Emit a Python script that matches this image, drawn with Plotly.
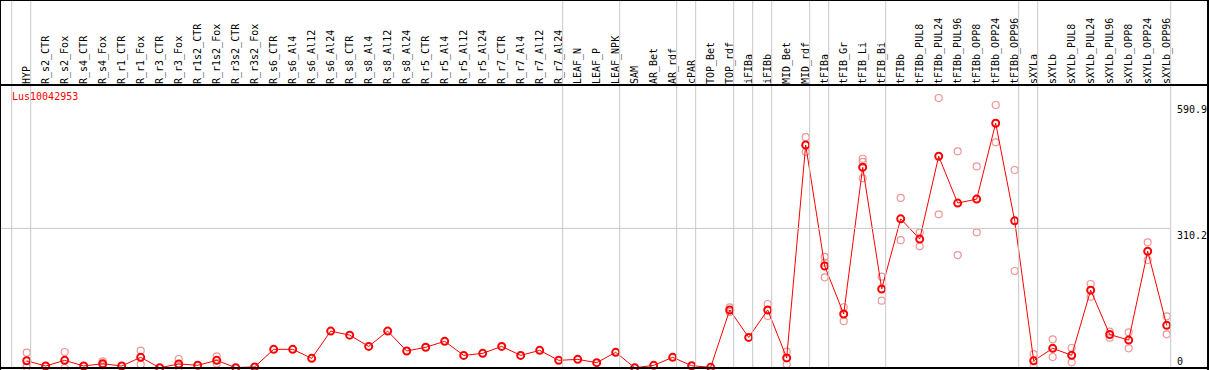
import plotly.graph_objects as go

# ---------------- data ----------------
categories = [
    "HYP",
    "R_s2_CTR", "R_s2_Fox", "R_s4_CTR", "R_s4_Fox", "R_r1_CTR", "R_r1_Fox",
    "R_r3_CTR", "R_r3_Fox", "R_r1s2_CTR", "R_r1s2_Fox", "R_r3s2_CTR", "R_r3s2_Fox",
    "R_s6_CTR", "R_s6_Al4", "R_s6_Al12", "R_s6_Al24", "R_s8_CTR", "R_s8_Al4",
    "R_s8_Al12", "R_s8_Al24", "R_r5_CTR", "R_r5_Al4", "R_r5_Al12", "R_r5_Al24",
    "R_r7_CTR", "R_r7_Al4", "R_r7_Al12", "R_r7_Al24",
    "LEAF_N", "LEAF_P", "LEAF_NPK",
    "SAM", "AR_Bet", "AR_rdf",
    "cPAR",
    "TOP_Bet", "TOP_rdf",
    "iFIBa",
    "iFIBb",
    "MID_Bet", "MID_rdf",
    "tFIBa",
    "tFIB_Gr", "tFIB_Li", "tFIB_Bi",
    "tFIBb", "tFIBb_PUL8", "tFIBb_PUL24", "tFIBb_PUL96", "tFIBb_OPP8", "tFIBb_OPP24", "tFIBb_OPP96",
    "sXYLa",
    "sXYLb", "sXYLb_PUL8", "sXYLb_PUL24", "sXYLb_PUL96", "sXYLb_OPP8", "sXYLb_OPP24", "sXYLb_OPP96",
]

group_sizes = [1, 28, 3, 3, 1, 2, 1, 1, 2, 1, 3, 7, 1, 7]

mean_values = [
    16.0,
    4.4, 17.0, 4.4, 9.6, 4.4, 23.7,
    0.5, 9.0, 6.0, 17.0, 0.8, 2.5,
    41.5, 41.5, 21.5, 82.0, 73.0, 48.0,
    82.0, 37.8, 46.0, 59.3, 28.0, 32.6,
    48.0, 28.0, 39.2, 17.0,
    19.2, 11.9, 34.8,
    0.5, 5.9, 23.7,
    5.0,
    1.5, 129.0,
    68.0,
    129.0,
    22.5, 495.6,
    226.7,
    120.0, 446.0, 175.6,
    331.5, 286.5, 470.5, 366.5, 375.3, 544.0, 327.0,
    16.0,
    43.7, 28.2, 173.0, 74.5, 62.0, 259.4, 94.8,
]

replicate_values = [
    [34.0, 6.7, 2.0],
    [], [35.6, 0.0], [], [14.8, 6.0], [], [38.5, 8.0],
    [], [20.0, 1.5], [], [26.0, 10.0], [], [],
    [], [], [], [], [], [],
    [], [], [], [], [], [],
    [], [], [], [],
    [], [], [],
    [], [], [],
    [],
    [], [134.8, 124.4],
    [],
    [142.2, 115.6],
    [36.3, 8.1], [513.0, 480.0],
    [247.0, 234.0, 201.5],
    [135.0, 104.0], [465.0, 458.0, 421.5], [203.0, 149.6],
    [378.0, 284.0], [301.5, 270.4], [600.0, 341.5], [481.5, 251.0], [448.0, 301.5], [584.4, 501.5], [440.0, 215.6],
    [31.0, 6.7],
    [63.7, 24.4], [44.4, 12.6], [186.7, 158.5], [80.7, 67.4], [79.2, 43.7], [279.2, 240.0], [114.8, 74.8],
]

y_tick_values = [310.2, 590.9]
y_tick_labels = ["310.2", "590.9"]
y_zero_value = [0]
y_zero_label = ["0"]

gene_name = "Lus10042953"

# ---------------- layout geometry ----------------
W, H = 1209, 370
M_L, M_R, M_T, M_B = 0, 39, 85, 2
plot_w = W - M_L - M_R
plot_h = H - M_T - M_B
step_px = 19.0
first_px = 26.7
x_range = [(0 - first_px) / step_px, (plot_w - first_px) / step_px]
y_range = [0, plot_h / 0.45]

FONT = "DejaVu Sans Mono"
RED = "#ff0000"
PINK = "rgb(238,150,150)"
GRID = "#c8c8c8"

xs = list(range(len(categories)))

rep_x, rep_y = [], []
for i, reps in enumerate(replicate_values):
    for v in reps:
        rep_x.append(i)
        rep_y.append(v)

fig = go.Figure()
fig.add_trace(go.Scatter(
    x=rep_x, y=rep_y, mode="markers",
    marker=dict(symbol="circle-open", size=7, color=PINK, line=dict(width=1.2, color=PINK)),
    hoverinfo="skip", showlegend=False, cliponaxis=False,
))
fig.add_trace(go.Scatter(
    x=xs, y=mean_values, mode="lines+markers",
    line=dict(color=RED, width=1),
    marker=dict(symbol="circle-open", size=7, color=RED, line=dict(width=2, color=RED)),
    showlegend=False, cliponaxis=False,
))
# invisible trace for the second y axis (zero label)
fig.add_trace(go.Scatter(x=[xs[0]], y=[y_zero_value[0]], yaxis="y2", mode="markers",
                         marker=dict(opacity=0), hoverinfo="skip", showlegend=False))

# ---------------- shapes ----------------
def xpaper(v):
    return (v - x_range[0]) / (x_range[1] - x_range[0])

top_paper = 1 + M_T / plot_h
bot_paper = -M_B / plot_h
right_paper = (W - 1 - M_L) / plot_w

shapes = []
offset = 4.0 / step_px
ends = [-1]
acc = -1
for g in group_sizes:
    acc += g
    ends.append(acc)
for e in ends:
    xp = xpaper(e + offset)
    shapes.append(dict(type="line", xref="paper", yref="paper", x0=xp, x1=xp,
                       y0=0, y1=top_paper, line=dict(color=GRID, width=1)))
# horizontal grid at middle tick
shapes.append(dict(type="line", xref="paper", yref="y", x0=0, x1=1,
                   y0=y_tick_values[0], y1=y_tick_values[0], line=dict(color=GRID, width=1)))
# frame
blk = dict(color="black", width=2)
shapes += [
    dict(type="line", xref="paper", yref="paper", x0=0, x1=right_paper + 0.01, y0=top_paper, y1=top_paper, line=blk),
    dict(type="line", xref="paper", yref="paper", x0=0, x1=right_paper + 0.01, y0=1, y1=1, line=blk),
    dict(type="line", xref="paper", yref="paper", x0=0, x1=right_paper + 0.01, y0=0, y1=0, line=blk),
    dict(type="line", xref="paper", yref="paper", x0=0, x1=0, y0=bot_paper, y1=top_paper, line=blk),
    dict(type="line", xref="paper", yref="paper", x0=right_paper, x1=right_paper, y0=bot_paper, y1=top_paper, line=blk),
]

fig.update_layout(
    width=W, height=H,
    margin=dict(l=M_L, r=M_R, t=M_T, b=M_B, pad=0),
    paper_bgcolor="white", plot_bgcolor="white",
    showlegend=False,
    font=dict(family=FONT, size=10, color="black"),
    xaxis=dict(range=x_range, side="top", tickmode="array", tickvals=xs, ticktext=categories,
               tickangle=-90, ticks="", showgrid=False, zeroline=False, showline=False,
               tickfont=dict(family=FONT, size=10, color="black"), automargin=False,
               ticklabelstandoff=0, fixedrange=True),
    yaxis=dict(range=y_range, side="right", tickmode="array", tickvals=y_tick_values,
               ticktext=y_tick_labels, ticks="", showgrid=False, zeroline=False, showline=False,
               ticklabelposition="outside bottom", ticklabelstandoff=6,
               tickfont=dict(family=FONT, size=10, color="black"), automargin=False, fixedrange=True),
    yaxis2=dict(range=y_range, side="right", overlaying="y", tickmode="array", tickvals=y_zero_value,
                ticktext=y_zero_label, ticks="", showgrid=False, zeroline=False, showline=False,
                ticklabelposition="outside top", ticklabelstandoff=6,
                tickfont=dict(family=FONT, size=10, color="black"), automargin=False, fixedrange=True),
    shapes=shapes,
    annotations=[dict(text=gene_name, xref="paper", yref="paper", x=xpaper(-1 + offset), y=1,
                      xanchor="left", yanchor="top", xshift=-2, yshift=-4, showarrow=False,
                      font=dict(family=FONT, size=10, color=RED))],
)

fig.write_html("out.html", config={"displayModeBar": False},
               post_script="document.body.style.margin='0px';document.body.style.overflow='hidden';")
